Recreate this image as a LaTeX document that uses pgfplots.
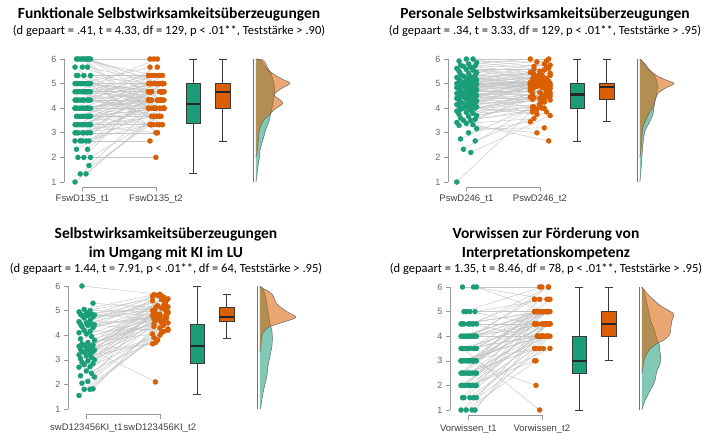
\documentclass[border=0pt]{standalone}
\usepackage{fontspec}
\setmainfont{Carlito}
\newfontfamily\arialf{Liberation Sans}
\usepackage{pgfplots}
\pgfplotsset{compat=1.18}
\usepackage{pgfplotstable}
\usepgfplotslibrary{statistics}
\definecolor{cg}{HTML}{1B9E77}
\definecolor{co}{HTML}{D95F02}
\definecolor{lg}{HTML}{C6C6C6}
\definecolor{bx}{HTML}{3A3A3A}

\tikzset{xl/.style={font=\arialf\fontsize{9.5}{11}\selectfont, text=black!75}}
\pgfplotsset{
 panel/.style={x=73.5pt,y=24.6pt,xmin=0.75,xmax=3.9,ymin=1,ymax=6,
  axis y line=left, axis x line=none, y axis line style={-},
  axis line style={draw=black!40,line width=0.6pt},
  ytick={1,2,3,4,5,6}, xtick=\empty, tick align=outside, major tick length=4pt,
  tick style={draw=black!40,line width=0.6pt},
  yticklabel style={font=\arialf\fontsize{9}{10}\selectfont, text=black!60},
  /pgf/number format/assume math mode=true,
  clip=false, anchor=south west},
 pairlines/.style={no marks, draw=lg, line width=0.45pt,
  quiver={u=1+(\thisrow{j2})-(\thisrow{j1}), v=(\thisrow{b})-(\thisrow{a})}},
 dots/.style={only marks, mark=*, mark size=2.5pt, color=#1, mark options={draw=#1, fill=#1}},
 dens/.style={fill=#1, fill opacity=0.55, draw=black!60, line width=0.5pt, smooth, tension=0.5},
 bp/.style={draw=bx, line width=0.8pt, fill=#1, boxplot/draw direction=y,
  boxplot/every median/.style={line width=2.4pt, draw=black!85}},
 brk/.style={draw=black!40, line width=0.6pt}
}

% ---------------- Panel 1 data ----------------
\pgfplotstableread{
a b j1 j2
1 3.67 -0.10 0.02
1.33 4 0.05 0.11
1.33 3.33 -0.03 -0.08
1.67 4.33 0.09 0.07
2 2 -0.06 0.00
2 4.67 0.02 -0.10
2 3.67 0.11 0.05
2.33 4 -0.08 -0.03
2.33 5 0.07 0.09
2.67 3.33 0.00 -0.06
2.67 4.33 -0.10 0.02
2.67 4 0.05 0.11
2.67 2.67 -0.03 -0.08
2.67 4.67 0.09 0.07
3 3 -0.06 0.00
3 4 0.02 -0.10
3 4.33 0.11 0.05
3 3.67 -0.08 -0.03
3 5 0.07 0.09
3 4.67 0.00 -0.06
3 3.33 -0.10 0.02
3.33 4 0.05 0.11
3.33 4.33 -0.03 -0.08
3.33 3.67 0.09 0.07
3.33 5 -0.06 0.00
3.33 4.67 0.02 -0.10
3.33 3.33 0.11 0.05
3.33 4 -0.08 -0.03
3.33 5.33 0.07 0.09
3.33 4.33 0.00 -0.06
3.33 3 -0.10 0.02
3.67 4 0.05 0.11
3.67 4.67 -0.03 -0.08
3.67 4.33 0.09 0.07
3.67 3.67 -0.06 0.00
3.67 5 0.02 -0.10
3.67 4 0.11 0.05
3.67 3.33 -0.08 -0.03
3.67 4.67 0.07 0.09
3.67 5.33 0.00 -0.06
4 4.33 -0.10 0.02
4 4 0.05 0.11
4 5 -0.03 -0.08
4 4.67 0.09 0.07
4 3.67 -0.06 0.00
4 4.33 0.02 -0.10
4 5 0.11 0.05
4 4 -0.08 -0.03
4 4.67 0.07 0.09
4 3.33 0.00 -0.06
4 5.67 -0.10 0.02
4 4.33 0.05 0.11
4.33 4.67 -0.03 -0.08
4.33 4 0.09 0.07
4.33 5 -0.06 0.00
4.33 4.33 0.02 -0.10
4.33 3.67 0.11 0.05
4.33 5.33 -0.08 -0.03
4.33 4.67 0.07 0.09
4.33 4 0.00 -0.06
4.33 5 -0.10 0.02
4.67 4.67 0.05 0.11
4.67 5 -0.03 -0.08
4.67 4.33 0.09 0.07
4.67 4 -0.06 0.00
4.67 5.33 0.02 -0.10
4.67 4.67 0.11 0.05
4.67 3.67 -0.08 -0.03
4.67 5 0.07 0.09
4.67 4.33 0.00 -0.06
4.67 6 -0.10 0.02
4.67 4.67 0.05 0.11
5 5 -0.03 -0.08
5 4.67 0.09 0.07
5 4 -0.06 0.00
5 5.33 0.02 -0.10
5 4.33 0.11 0.05
5 5 -0.08 -0.03
5 3.33 0.07 0.09
5 4.67 0.00 -0.06
5 5 -0.10 0.02
5 4 0.05 0.11
5 5.67 -0.03 -0.08
5 4.67 0.09 0.07
5.33 5 -0.06 0.00
5.33 4.33 0.02 -0.10
5.33 5.33 0.11 0.05
5.33 4 -0.08 -0.03
5.67 5 0.07 0.09
5.67 4.67 0.00 -0.06
5.67 3 -0.10 0.02
6 5 0.05 0.11
6 6 -0.03 -0.08
6 4.67 0.09 0.07
6 5.33 -0.06 0.00
6 4 0.02 -0.10
6 5 0.11 0.05
6 6 -0.08 -0.03
6 4.33 0.07 0.09
6 3.67 0.00 -0.06
}\tA
\pgfplotstableread{
v w
2.0 0
2.3 1.5
2.7 2.5
3.0 3
3.3 5
3.52 8
3.72 13
3.93 18
4.2 27
4.4 22
4.54 18
4.74 23
5.0 34
5.15 28
5.35 19
5.55 13
5.8 10
5.96 7
6.0 0
}\dAo
\pgfplotstableread{
v w
1.0 0
1.2 1
1.6 2
2.0 3.5
2.3 4.2
2.5 5.5
2.84 8
3.0 9
3.25 11
3.45 13
3.8 15
4.2 17
4.6 18.5
5.0 18
5.4 15
5.7 9
5.95 5
6.0 0
}\dAg

% ---------------- Panel 2 data ----------------
\pgfplotstableread{
a b j1 j2
1.00 4.30 -0.13 0.03
2.20 3.70 0.06 0.14
2.33 4.05 -0.04 -0.10
2.67 3.85 0.12 0.09
2.75 4.20 -0.08 0.00
3.00 3.45 0.03 -0.13
3.17 3.20 0.14 0.06
3.30 3.00 -0.10 -0.04
3.33 2.67 0.09 0.12
3.38 3.58 0.00 -0.08
3.42 4.00 -0.13 0.03
3.50 4.62 0.06 0.14
3.50 3.85 -0.04 -0.10
3.55 4.70 0.12 0.09
3.60 4.10 -0.08 0.00
3.67 4.45 0.03 -0.13
3.70 4.25 0.14 0.06
3.75 3.95 -0.10 -0.04
3.80 4.85 0.09 0.12
3.83 4.05 0.00 -0.08
3.88 4.35 -0.13 0.03
3.92 4.80 0.06 0.14
4.00 3.90 -0.04 -0.10
4.00 4.52 0.12 0.09
3.95 4.15 -0.08 0.00
4.02 5.00 0.03 -0.13
4.05 4.38 0.14 0.06
4.08 3.75 -0.10 -0.04
4.10 4.60 0.09 0.12
4.12 4.42 0.00 -0.08
4.15 4.95 -0.13 0.03
4.17 4.33 0.06 0.14
4.20 4.58 -0.04 -0.10
4.22 5.05 0.12 0.09
4.25 4.40 -0.08 0.00
4.28 4.72 0.03 -0.13
4.30 4.00 0.14 0.06
4.33 4.88 -0.10 -0.04
4.35 4.47 0.09 0.12
4.38 5.12 0.00 -0.08
4.40 4.55 -0.13 0.03
4.42 4.90 0.06 0.14
4.45 4.36 -0.04 -0.10
4.47 5.20 0.12 0.09
4.50 4.65 -0.08 0.00
4.50 4.82 0.03 -0.13
4.52 4.28 0.14 0.06
4.55 5.00 -0.10 -0.04
4.56 4.75 0.09 0.12
4.58 5.30 0.00 -0.08
4.60 4.85 -0.13 0.03
4.62 4.50 0.06 0.14
4.65 5.02 -0.04 -0.10
4.67 4.67 0.12 0.09
4.70 5.25 -0.08 0.00
4.72 4.93 0.03 -0.13
4.75 4.45 0.14 0.06
4.78 5.08 -0.10 -0.04
4.80 4.87 0.09 0.12
4.82 5.38 0.00 -0.08
4.83 4.97 -0.13 0.03
4.85 5.00 0.06 0.14
4.88 4.77 -0.04 -0.10
4.90 5.15 0.12 0.09
4.92 4.95 -0.08 0.00
4.95 5.45 0.03 -0.13
4.97 4.83 0.14 0.06
5.00 5.00 -0.10 -0.04
5.00 5.10 0.09 0.12
5.00 4.85 0.00 -0.08
5.00 5.03 -0.13 0.03
5.02 5.33 0.06 0.14
5.05 4.92 -0.04 -0.10
5.08 5.00 0.12 0.09
5.10 5.50 -0.08 0.00
5.12 4.98 0.03 -0.13
5.15 5.22 0.14 0.06
5.17 5.05 -0.10 -0.04
5.20 5.62 0.09 0.12
5.22 5.00 0.00 -0.08
5.25 5.13 -0.13 0.03
5.28 5.42 0.06 0.14
5.30 5.00 -0.04 -0.10
5.33 5.67 0.12 0.09
5.38 5.17 -0.08 0.00
5.42 5.05 0.03 -0.13
5.45 5.80 0.14 0.06
5.50 5.28 -0.10 -0.04
5.55 5.07 0.09 0.12
5.58 5.58 0.00 -0.08
5.62 5.35 -0.13 0.03
5.67 5.75 0.06 0.14
5.70 5.18 -0.04 -0.10
5.72 5.92 0.12 0.09
5.75 5.40 -0.08 0.00
5.80 6.00 0.03 -0.13
5.85 5.55 0.14 0.06
5.92 5.88 -0.10 -0.04
6.00 6.00 0.09 0.12
6.00 5.70 0.00 -0.08
}\tB
\pgfplotstableread{
v w
2.0 0
2.5 1.5
3.2 3
3.6 7
3.86 10
4.0 13
4.26 15
4.6 18
4.8 25
5.0 34
5.15 26
5.3 18
5.55 10
5.8 5
6.0 0
}\dBo
\pgfplotstableread{
v w
1.0 0
1.3 0.8
1.7 1.5
2.5 3
3.05 5
3.46 10
3.73 13
4.0 14
4.3 15
4.6 17
5.0 17.5
5.3 15
5.55 9
5.8 5
6.0 0
}\dBg

% ---------------- Panel 3 data ----------------
\pgfplotstableread{
a b j1 j2
1.55 4.10 -0.10 0.02
1.80 4.50 0.05 0.11
1.80 3.90 -0.03 -0.08
1.82 4.75 0.09 0.07
2.05 4.30 -0.06 0.00
2.12 5.00 0.02 -0.10
2.30 4.40 0.11 0.05
2.35 3.80 -0.08 -0.03
2.45 4.85 0.07 0.09
2.55 4.60 0.00 -0.06
2.70 5.10 -0.10 0.02
2.72 4.20 0.05 0.11
2.80 4.65 -0.03 -0.08
2.84 5.30 0.09 0.07
2.90 4.00 -0.06 0.00
2.95 4.80 0.02 -0.10
3.00 4.55 0.11 0.05
3.05 5.20 -0.08 -0.03
3.10 4.70 0.07 0.09
3.15 3.70 0.00 -0.06
3.20 5.45 -0.10 0.02
3.25 4.90 0.05 0.11
3.30 4.35 -0.03 -0.08
3.33 5.05 0.09 0.07
3.35 4.62 -0.06 0.00
3.38 3.65 0.02 -0.10
3.40 5.55 0.11 0.05
3.42 4.75 -0.08 -0.03
3.45 4.95 0.07 0.09
3.50 2.10 0.00 -0.06
3.55 4.58 -0.10 0.02
3.55 5.15 0.05 0.11
3.58 4.45 -0.03 -0.08
3.60 5.35 0.09 0.07
3.65 4.82 -0.06 0.00
3.70 4.05 0.02 -0.10
3.80 5.50 0.11 0.05
3.85 4.68 -0.08 -0.03
3.95 5.02 0.07 0.09
4.05 4.88 0.00 -0.06
4.10 5.60 -0.10 0.02
4.15 4.25 0.05 0.11
4.20 4.92 -0.03 -0.08
4.30 5.25 0.09 0.07
4.35 4.72 -0.06 0.00
4.40 5.40 0.02 -0.10
4.42 4.15 0.11 0.05
4.45 5.62 -0.08 -0.03
4.45 4.78 0.07 0.09
4.50 5.12 0.00 -0.06
4.55 4.52 -0.10 0.02
4.60 5.48 0.05 0.11
4.70 5.00 -0.03 -0.08
4.75 5.30 0.09 0.07
4.80 4.85 -0.06 0.00
4.80 5.58 0.02 -0.10
4.82 5.18 0.11 0.05
4.85 4.65 -0.08 -0.03
4.85 5.42 0.07 0.09
4.90 5.08 0.00 -0.06
4.95 5.52 -0.10 0.02
5.00 4.95 0.05 0.11
5.05 5.65 -0.03 -0.08
5.30 5.10 0.09 0.07
6.00 5.66 -0.06 0.00
}\tC
\pgfplotstableread{
v w
3.3 0
3.6 1
4.09 3
4.35 10
4.55 25
4.73 36
4.96 27
5.23 18
5.43 15
5.63 13
5.8 8
5.92 2
5.95 0
}\dCo
\pgfplotstableread{
v w
1.0 0
1.1 1
1.5 2.5
1.91 4.5
2.31 7
2.72 8
3.13 10
3.53 12
3.88 12.5
4.21 12
4.5 10
5.0 8
5.5 6
5.9 3
6.0 0
}\dCg

% ---------------- Panel 4 data ----------------
\pgfplotstableread{
a b j1 j2
1 3.5 -0.10 0.02
1 4 0.05 0.11
1 3 -0.03 -0.08
1 4.5 0.09 0.07
1.5 4 -0.06 0.00
1.5 3.5 0.02 -0.10
1.5 4.5 0.11 0.05
1.5 5 -0.08 -0.03
1.5 4 0.07 0.09
2 4 0.00 -0.06
2 4.5 -0.10 0.02
2 3.5 0.05 0.11
2 5 -0.03 -0.08
2 4 0.09 0.07
2 4.5 -0.06 0.00
2 3 0.02 -0.10
2 5 0.11 0.05
2 4 -0.08 -0.03
2 4.5 0.07 0.09
2.5 4 0.00 -0.06
2.5 5 -0.10 0.02
2.5 4.5 0.05 0.11
2.5 3.5 -0.03 -0.08
2.5 4 0.09 0.07
2.5 5 -0.06 0.00
2.5 4.5 0.02 -0.10
2.5 4 0.11 0.05
2.5 5.5 -0.08 -0.03
3 4.5 0.07 0.09
3 5 0.00 -0.06
3 4 -0.10 0.02
3 4.5 0.05 0.11
3 2 -0.03 -0.08
3 5 0.09 0.07
3 4 -0.06 0.00
3 5 0.02 -0.10
3 4.5 0.11 0.05
3 3.5 -0.08 -0.03
3 5 0.07 0.09
3 4.5 0.00 -0.06
3 4 -0.10 0.02
3 5.5 0.05 0.11
3.5 4.5 -0.03 -0.08
3.5 5 0.09 0.07
3.5 4 -0.06 0.00
3.5 5 0.02 -0.10
3.5 4.5 0.11 0.05
3.5 1 -0.08 -0.03
3.5 5 0.07 0.09
3.5 4 0.00 -0.06
3.5 4.5 -0.10 0.02
4 5 0.05 0.11
4 4.5 -0.03 -0.08
4 5 0.09 0.07
4 4 -0.06 0.00
4 5.5 0.02 -0.10
4 4.5 0.11 0.05
4 5 -0.08 -0.03
4 6 0.07 0.09
4 4 0.00 -0.06
4 5 -0.10 0.02
4 4.5 0.05 0.11
4 5 -0.03 -0.08
4 4 0.09 0.07
4.5 5 -0.06 0.00
4.5 5.5 0.02 -0.10
4.5 4.5 0.11 0.05
4.5 5 -0.08 -0.03
4.5 6 0.07 0.09
4.5 4 0.00 -0.06
4.5 5 -0.10 0.02
4.5 4.5 0.05 0.11
5 5 -0.03 -0.08
5 5.5 0.09 0.07
5 6 -0.06 0.00
5 4.5 0.02 -0.10
6 5 0.11 0.05
6 6 -0.08 -0.03
6 5.5 0.07 0.09
}\tD
\pgfplotstableread{
v w
2.5 0
2.72 1
3.13 3
3.47 8
3.67 14
3.87 23
4.08 28
4.35 29
4.62 30
4.89 32
5.02 28
5.23 19
5.43 13
5.7 6
5.95 1
6.0 0
}\dDo
\pgfplotstableread{
v w
1.0 0
1.37 3
1.77 8
2.18 13
2.59 15
2.86 18
3.13 19
3.4 18
3.6 18
3.87 15
4.2 13
4.62 9
5.16 6
5.7 3
6.0 0
}\dDg

\begin{document}
\begin{tikzpicture}
\fill[white] (0,0) rectangle (720pt,432pt);
\path[use as bounding box] (0,0) rectangle (720pt,432pt);

% Titles
\node[anchor=base, font=\bfseries\fontsize{15.5}{19}\selectfont] at (169pt,413pt) {Funktionale Selbstwirksamkeitsüberzeugungen};
\node[anchor=base, font=\fontsize{12.5}{15}\selectfont] at (169pt,397.5pt) {(d gepaart = .41, t = 4.33, df = 129, p < .01**, Teststärke > .90)};
\node[anchor=base, font=\bfseries\fontsize{15.5}{19}\selectfont] at (545pt,413pt) {Personale Selbstwirksamkeitsüberzeugungen};
\node[anchor=base, font=\fontsize{12.5}{15}\selectfont] at (545pt,397.5pt) {(d gepaart = .34, t = 3.33, df = 129, p < .01**, Teststärke > .95)};
\node[anchor=base, font=\bfseries\fontsize{15.5}{19}\selectfont] at (166pt,193.7pt) {Selbstwirksamkeitsüberzeugungen};
\node[anchor=base, font=\bfseries\fontsize{15.5}{19}\selectfont] at (166pt,174.7pt) {im Umgang mit KI im LU};
\node[anchor=base, font=\fontsize{12.5}{15}\selectfont] at (166pt,160pt) {(d gepaart = 1.44, t = 7.91, p < .01**, df = 64, Teststärke > .95)};
\node[anchor=base, font=\bfseries\fontsize{15.5}{19}\selectfont] at (546pt,193.7pt) {Vorwissen zur Förderung von};
\node[anchor=base, font=\bfseries\fontsize{15.5}{19}\selectfont] at (546pt,174.7pt) {Interpretationskompetenz};
\node[anchor=base, font=\fontsize{12.5}{15}\selectfont] at (546pt,160pt) {(d gepaart = 1.35, t = 8.46, df = 78, p < .01**, Teststärke > .95)};

% ---------- Panel 1 ----------
\begin{axis}[panel, at={(64pt,250pt)}]
\addplot[pairlines] table[x expr=1+(\thisrow{j1}), y=a] {\tA};
\addplot[dots=cg] table[x expr=1+(\thisrow{j1}), y=a] {\tA};
\addplot[dots=co] table[x expr=2+(\thisrow{j2}), y=b] {\tA};
\addplot[bp=cg, boxplot prepared={draw position=2.51, lower whisker=1.33, lower quartile=3.40, median=4.17, upper quartile=5.0, upper whisker=6.0, box extend=0.2, whisker extend=0.11}] coordinates {};
\addplot[bp=co, boxplot prepared={draw position=2.91, lower whisker=2.67, lower quartile=4.0, median=4.67, upper quartile=5.0, upper whisker=6.0, box extend=0.2, whisker extend=0.11}] coordinates {};
\addplot[draw=black!55, line width=1.1pt] coordinates {(3.33,1) (3.33,6)};
\addplot[dens=cg] table[x expr=3.36+\thisrow{w}/73.5, y=v] {\dAg};
\addplot[dens=co] table[x expr=3.36+\thisrow{w}/73.5, y=v] {\dAo};
\addplot[brk] coordinates {(1,0.62) (1,0.79) (2,0.79) (2,0.62)};
\node[xl] at (axis cs:1,0.31) {FswD135\_t1};
\node[xl] at (axis cs:2,0.31) {FswD135\_t2};
\end{axis}

% ---------- Panel 2 ----------
\begin{axis}[panel, at={(448pt,250pt)}]
\addplot[pairlines] table[x expr=1+(\thisrow{j1}), y=a] {\tB};
\addplot[dots=cg] table[x expr=1+(\thisrow{j1}), y=a] {\tB};
\addplot[dots=co] table[x expr=2+(\thisrow{j2}), y=b] {\tB};
\addplot[bp=cg, boxplot prepared={draw position=2.51, lower whisker=2.67, lower quartile=4.0, median=4.56, upper quartile=5.0, upper whisker=6.0, box extend=0.2, whisker extend=0.11}] coordinates {};
\addplot[bp=co, boxplot prepared={draw position=2.91, lower whisker=3.45, lower quartile=4.36, median=4.85, upper quartile=5.0, upper whisker=6.0, box extend=0.2, whisker extend=0.11}] coordinates {};
\addplot[draw=black!55, line width=1.1pt] coordinates {(3.33,1) (3.33,6)};
\addplot[dens=cg] table[x expr=3.36+\thisrow{w}/73.5, y=v] {\dBg};
\addplot[dens=co] table[x expr=3.36+\thisrow{w}/73.5, y=v] {\dBo};
\addplot[brk] coordinates {(1,0.62) (1,0.79) (2,0.79) (2,0.62)};
\node[xl] at (axis cs:1,0.31) {PswD246\_t1};
\node[xl] at (axis cs:2,0.31) {PswD246\_t2};
\end{axis}

% ---------- Panel 3 ----------
\begin{axis}[panel, at={(68pt,23pt)}]
\addplot[pairlines] table[x expr=1+(\thisrow{j1}), y=a] {\tC};
\addplot[dots=cg] table[x expr=1+(\thisrow{j1}), y=a] {\tC};
\addplot[dots=co] table[x expr=2+(\thisrow{j2}), y=b] {\tC};
\addplot[bp=cg, boxplot prepared={draw position=2.51, lower whisker=1.58, lower quartile=2.84, median=3.55, upper quartile=4.45, upper whisker=6.0, box extend=0.2, whisker extend=0.11}] coordinates {};
\addplot[bp=co, boxplot prepared={draw position=2.91, lower whisker=3.85, lower quartile=4.58, median=4.75, upper quartile=5.12, upper whisker=5.66, box extend=0.2, whisker extend=0.11}] coordinates {};
\addplot[draw=black!55, line width=1.1pt] coordinates {(3.33,1) (3.33,6)};
\addplot[dens=cg] table[x expr=3.36+\thisrow{w}/73.5, y=v] {\dCg};
\addplot[dens=co] table[x expr=3.36+\thisrow{w}/73.5, y=v] {\dCo};
\addplot[brk] coordinates {(1,0.60) (1,0.77) (2,0.77) (2,0.60)};
\node[xl] at (axis cs:1,0.24) {swD123456KI\_t1};
\node[xl] at (axis cs:2,0.24) {swD123456KI\_t2};
\end{axis}

% ---------- Panel 4 ----------
\begin{axis}[panel, at={(450pt,22pt)}]
\addplot[pairlines] table[x expr=1+(\thisrow{j1}), y=a] {\tD};
\addplot[dots=cg] table[x expr=1+(\thisrow{j1}), y=a] {\tD};
\addplot[dots=co] table[x expr=2+(\thisrow{j2}), y=b] {\tD};
\addplot[bp=cg, boxplot prepared={draw position=2.51, lower whisker=1.0, lower quartile=2.5, median=3.0, upper quartile=4.0, upper whisker=6.0, box extend=0.2, whisker extend=0.11}] coordinates {};
\addplot[bp=co, boxplot prepared={draw position=2.91, lower whisker=3.0, lower quartile=4.0, median=4.5, upper quartile=5.0, upper whisker=6.0, box extend=0.2, whisker extend=0.11}] coordinates {};
\addplot[draw=black!55, line width=1.1pt] coordinates {(3.33,1) (3.33,6)};
\addplot[dens=cg] table[x expr=3.36+\thisrow{w}/73.5, y=v] {\dDg};
\addplot[dens=co] table[x expr=3.36+\thisrow{w}/73.5, y=v] {\dDo};
\addplot[brk] coordinates {(1,0.60) (1,0.77) (2,0.77) (2,0.60)};
\node[xl] at (axis cs:1,0.24) {Vorwissen\_t1};
\node[xl] at (axis cs:2,0.24) {Vorwissen\_t2};
\end{axis}
\end{tikzpicture}
\end{document}
